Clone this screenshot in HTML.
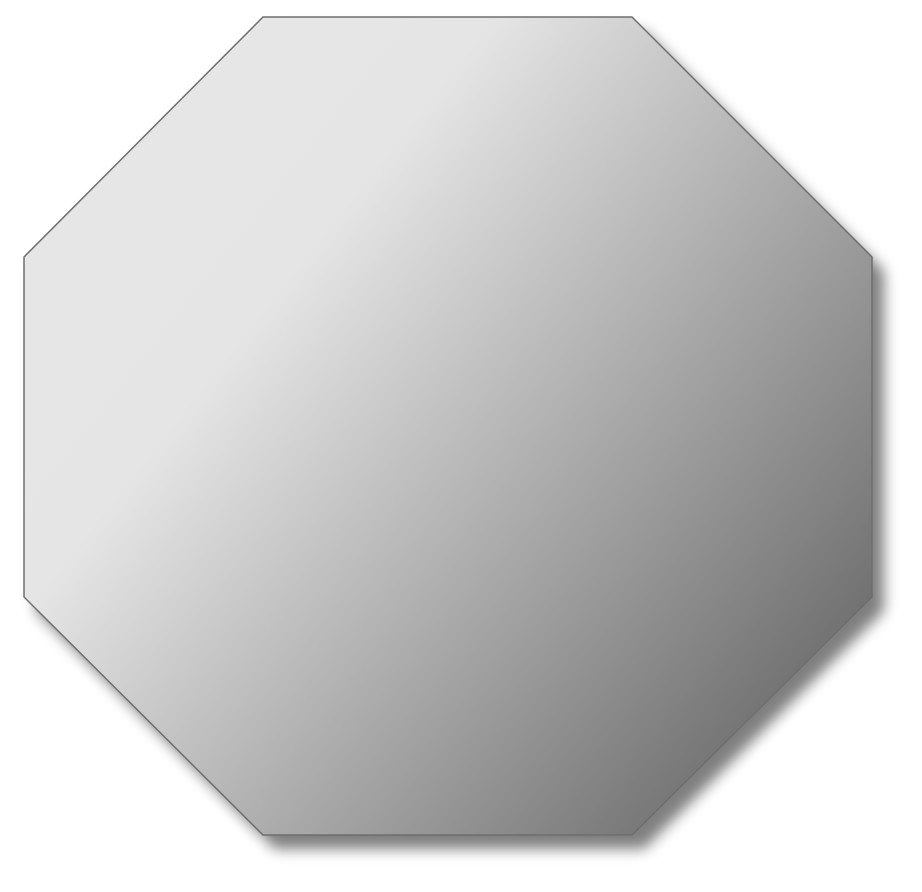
<!DOCTYPE html>
<html><head><meta charset="utf-8"><style>html,body{margin:0;padding:0;background:#fff;width:922px;height:892px;overflow:hidden}</style></head>
<body>
<svg width="922" height="892" viewBox="0 0 922 892" xmlns="http://www.w3.org/2000/svg">
<defs>
<linearGradient id="g" gradientUnits="userSpaceOnUse" x1="120" y1="200" x2="830" y2="760">
<stop offset="0" stop-color="#e6e6e6"/>
<stop offset="0.2" stop-color="#e5e5e5"/>
<stop offset="1" stop-color="#666666"/>
</linearGradient>
<filter id="s" x="-10%" y="-10%" width="130%" height="130%">
<feGaussianBlur stdDeviation="7"/>
</filter>
</defs>
<polygon points="275,31 644,31 884,271 884,611 644,849 275,849 36,611 36,271" fill="#000" opacity="0.5" filter="url(#s)"/>
<polygon points="263,17 632,17 872,257 872,597 632,835 263,835 24,597 24,257" fill="url(#g)" stroke="#6e6e6e" stroke-width="1.5"/>
</svg>
</body></html>
